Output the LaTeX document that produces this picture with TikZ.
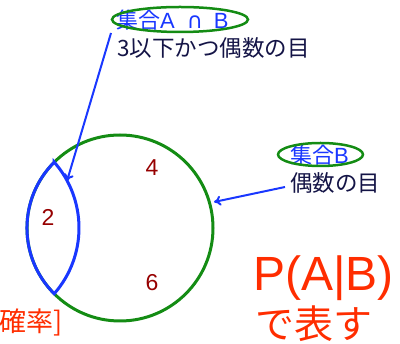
\documentclass[tikz,border=0pt]{standalone}
\usepackage{fontspec}
\setmainfont{Liberation Sans}
\newfontfamily\jp{Noto Sans CJK JP}
\newfontfamily\dv{DejaVu Sans}
\usetikzlibrary{arrows.meta}
\definecolor{cgreen}{RGB}{20,140,20}
\definecolor{cblue}{RGB}{25,55,255}
\definecolor{cnavy}{RGB}{20,20,70}
\definecolor{cdred}{RGB}{150,0,0}
\definecolor{cred}{RGB}{255,45,0}
\tikzset{
  setlabel/.style={text=cblue, font=\fontsize{22}{22}\selectfont, inner sep=0pt},
  desc/.style={text=cnavy, font=\jp\fontsize{22.5}{22.5}\selectfont, inner sep=0pt},
  digit/.style={text=cdred, font=\fontsize{23}{23}\selectfont, inner sep=0pt},
  hl/.style={draw=cgreen, line width=2.5pt},
  pointer/.style={draw=cblue, line width=2pt, -{To[length=7pt,width=10pt,line width=2pt]}},
}
\begin{document}
\begin{tikzpicture}[x=1pt,y=-1pt]
\useasboundingbox (0,0) rectangle (400,344);
% circle B
\node[circle, draw=cgreen, line width=3pt, minimum size=186pt, inner sep=0pt] (setB) at (120,228) {};
% lens A cap B
\draw[cblue, line width=3pt, line join=miter] (54.2,162.2) arc[start angle=225, end angle=135, radius=93]
  arc[start angle=41.3, end angle=-41.3, radius=99.7] -- cycle;
\node[digit] (d4) at (152,168) {4};
\node[digit] (d2) at (48,217) {2};
\node[digit] (d6) at (152,283) {6};
% top label
\node[setlabel, anchor=west] (lab1) at (116,20) {{\jp 集合}A\hspace{12pt}{\dv ∩}\hspace{11pt}B};
\draw[hl] (180,19.5) ellipse[x radius=68, y radius=12.5];
\node[desc, anchor=west] (desc1) at (117,48) {3以下かつ偶数の目};
\coordinate (a1s) at (111,33);
\coordinate (a1e) at (67,181);
\draw[pointer] (a1s) -- (a1e);
% label B
\node[setlabel, anchor=west] (lab2) at (290,155) {{\jp 集合}B};
\draw[hl] (320.5,154.5) ellipse[x radius=42.5, y radius=11.5];
\node[desc, anchor=west] (desc2) at (290,183) {偶数の目};
\coordinate (a2s) at (285,187);
\coordinate (a2e) at (214,202);
\draw[pointer] (a2s) -- (a2e);
% P(A|B)
\node[text=cred, font=\fontsize{48}{48}\selectfont, inner sep=0pt, anchor=west] (pab) at (253,278) {P(A|B)};
\node[text=cred, font=\jp\fontsize{39}{39}\selectfont, inner sep=0pt, anchor=west] (repr) at (255,324) {で表す};
\node[text=cred, font=\jp\fontsize{27}{27}\selectfont, inner sep=0pt, anchor=east] (prob) at (63,322) {確率]};
\end{tikzpicture}
\end{document}
